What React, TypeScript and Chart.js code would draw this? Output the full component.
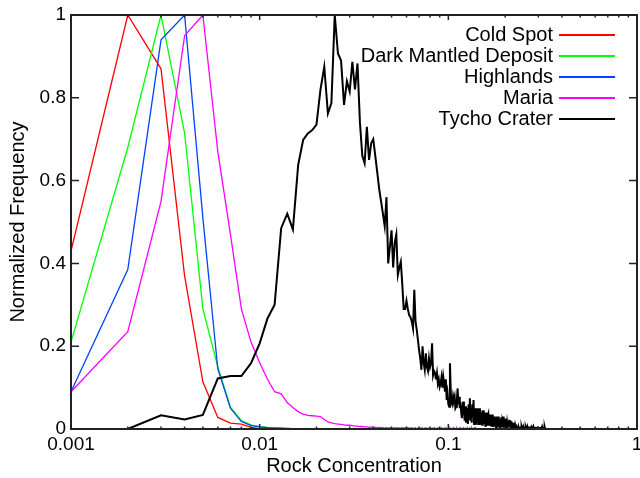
import React, { useEffect, useRef } from 'react';
import { Chart, registerables } from 'chart.js';

Chart.register(...registerables);

const FONT_FAMILY = '"Liberation Sans", Arial, Helvetica, sans-serif';

const BIN_WIDTH = 0.001;
const X_TICKS = [0.001, 0.01, 0.1, 1];
const X_TICK_LABELS = ['0.001', '0.01', '0.1', '1'];
const X_DECADES = [0.001, 0.01, 0.1];
const X_MINOR_MULTIPLIERS = [2, 3, 4, 5, 6, 7, 8, 9];
const Y_TICKS = [0, 0.2, 0.4, 0.6, 0.8, 1];
const Y_TICK_LABELS = ['0', '0.2', '0.4', '0.6', '0.8', '1'];

const SERIES_NAMES = ['Cold Spot', 'Dark Mantled Deposit', 'Highlands', 'Maria', 'Tycho Crater'];
const SERIES_COLORS = ['#ff0000', '#00ff00', '#0044ff', '#ff00ff', '#000000'];
const SERIES_START_BIN = [1, 1, 1, 1, 2];

const COLD_SPOT = [0.43, 1.0, 0.87, 0.37, 0.114, 0.028, 0.014, 0.012, 0.004, 0.001, 0];

const DARK_MANTLED = [
  0.21, 0.68, 1.0, 0.715, 0.29, 0.15, 0.053, 0.02, 0.01, 0.006,
  0.004, 0.003, 0.002, 0.002, 0.001, 0.001, 0.001, 0.001, 0.001, 0,
  0.001, 0, 0.001, 0, 0,
];

const HIGHLANDS = [
  0.09, 0.385, 0.94, 1.0, 0.51, 0.145, 0.05, 0.018, 0.008, 0.005,
  0.003, 0.002, 0.002, 0.001, 0.001, 0.001, 0.001, 0.001, 0.001, 0.001,
  0.001, 0.001, 0, 0.001, 0.001, 0, 0.001, 0, 0.001, 0,
  0, 0.001, 0, 0, 0.001, 0, 0, 0.001, 0,
];

const MARIA = [
  0.09, 0.235, 0.55, 0.95, 1.0, 0.67, 0.47, 0.29, 0.21, 0.16,
  0.12, 0.09, 0.085, 0.064, 0.052, 0.042, 0.036, 0.033, 0.032, 0.031,
  0.03, 0.023, 0.017, 0.015, 0.013, 0.012, 0.011, 0.01, 0.009, 0.009,
  0.008, 0.007, 0.007, 0.006, 0.006, 0.005, 0.005, 0.004, 0.005, 0.004,
  0.004, 0.003, 0.004, 0.003, 0.003, 0.002, 0.003, 0.002, 0.003, 0.002,
  0.002, 0.003, 0.002, 0.003, 0.002, 0.002, 0.003, 0.002, 0.003, 0.002,
  0.003, 0.002, 0.002, 0.003, 0, 0.002, 0.003, 0, 0.002, 0.002,
  0, 0.003, 0.002, 0, 0.002, 0.003, 0, 0.002, 0, 0.003,
  0, 0.002, 0, 0.003, 0.002, 0, 0, 0.003, 0, 0.002,
  0, 0.003, 0, 0, 0.002, 0, 0.003, 0, 0, 0.002,
  0, 0.003, 0, 0, 0, 0.003, 0, 0.002, 0, 0,
  0.003, 0, 0, 0.002, 0, 0.003, 0, 0, 0, 0.003,
  0, 0, 0.002, 0, 0, 0.003, 0, 0, 0, 0.002,
  0, 0, 0.003, 0, 0, 0, 0.002, 0, 0.003, 0,
];

const TYCHO = [
  0, 0.033, 0.023, 0.034, 0.122, 0.128, 0.128, 0.159, 0.207,
  0.267, 0.30, 0.485, 0.52, 0.482, 0.638, 0.698, 0.714, 0.722, 0.735,
  0.82, 0.875, 0.762, 0.787, 1.0, 0.907, 0.89, 0.783, 0.84, 0.815,
  0.887, 0.82, 0.883, 0.74, 0.66, 0.642, 0.73, 0.65, 0.69, 0.70,
  0.66, 0.62, 0.58, 0.55, 0.52, 0.49, 0.56, 0.40, 0.44, 0.48,
  0.39, 0.45, 0.47, 0.372, 0.39, 0.404, 0.35, 0.29, 0.29, 0.31,
  0.29, 0.275, 0.27, 0.26, 0.243, 0.336, 0.26, 0.24, 0.215, 0.19,
  0.17, 0.143, 0.2, 0.16, 0.143, 0.183, 0.15, 0.14, 0.17, 0.15,
  0.16, 0.207, 0.13, 0.14, 0.135, 0.12, 0.135, 0.11, 0.12, 0.102,
  0.11, 0.125, 0.1, 0.126, 0.11, 0.09, 0.12, 0.07, 0.086, 0.06,
  0.054, 0.159, 0.09, 0.062, 0.058, 0.08, 0.07, 0.078, 0.05, 0.054,
  0.07, 0.098, 0.06, 0.078, 0.05, 0.065, 0.04, 0.026, 0.05, 0.066,
  0.045, 0.02, 0.055, 0.015, 0.05, 0.03, 0.012, 0.06, 0.025, 0.074,
  0.02, 0.05, 0.015, 0.06, 0.03, 0.07, 0.012, 0.04, 0.05, 0.01,
  0.045, 0.02, 0.05, 0.012, 0.04, 0.05, 0.01, 0.045, 0.02, 0.04,
  0.01, 0.035, 0.045, 0.012, 0.03, 0.04, 0.008, 0.035, 0.02, 0.04,
  0.01, 0.03, 0.035, 0.008, 0.03, 0.015, 0.035, 0.006, 0.03, 0.02,
  0.035, 0.005, 0.025, 0.03, 0.008, 0.03, 0.01, 0.028, 0.005, 0.03,
  0.012, 0.025, 0.004, 0.03, 0.01, 0.02, 0.025, 0.004, 0.022, 0.01,
  0.028, 0.005, 0.02, 0.015, 0.03, 0.004, 0.02, 0.01, 0.025, 0.004,
  0.02, 0.012, 0.025, 0.004, 0.015, 0.02, 0.003, 0.018, 0.008, 0.022,
  0.004, 0.015, 0.01, 0.02, 0.003, 0.012, 0.018, 0.002, 0.01, 0.015,
  0.003, 0.012, 0.006, 0.015, 0.002, 0.01, 0.004, 0.012, 0.002, 0.008,
  0.004, 0, 0.008, 0, 0.005, 0, 0, 0.006, 0, 0,
  0.006, 0, 0, 0, 0.005, 0, 0, 0, 0.006, 0,
  0, 0, 0.006, 0, 0, 0, 0, 0.005, 0, 0,
  0, 0.006, 0, 0, 0, 0, 0, 0, 0.006, 0,
  0, 0, 0, 0, 0.005, 0, 0, 0, 0, 0,
  0, 0.006, 0, 0, 0, 0, 0, 0, 0, 0.005,
  0, 0, 0, 0, 0, 0, 0.006, 0, 0, 0,
  0, 0, 0, 0, 0.005, 0, 0, 0, 0, 0,
  0, 0, 0, 0.006, 0, 0, 0, 0, 0, 0,
  0, 0, 0, 0, 0.005, 0, 0, 0, 0, 0,
];

const SERIES_VALUES = [COLD_SPOT, DARK_MANTLED, HIGHLANDS, MARIA, TYCHO];
const SERIES_WIDTHS = [1.3, 1.3, 1.3, 1.3, 2];

const framePlugin = {
  id: 'frameTicks',
  afterDatasetsDraw(chart: any) {
    const { ctx, chartArea: a, scales } = chart;
    const xs = scales.x;
    const ys = scales.y;
    ctx.save();
    ctx.strokeStyle = '#222';
    ctx.lineWidth = 2;
    ctx.strokeRect(a.left, a.top, a.right - a.left, a.bottom - a.top);
    ctx.lineWidth = 1.5;
    ctx.beginPath();
    for (const v of Y_TICKS) {
      const py = ys.getPixelForValue(v);
      ctx.moveTo(a.left, py);
      ctx.lineTo(a.left + 8, py);
      ctx.moveTo(a.right, py);
      ctx.lineTo(a.right - 8, py);
    }
    for (const d of X_DECADES) {
      const all = [1, ...X_MINOR_MULTIPLIERS];
      for (const m of all) {
        const px = xs.getPixelForValue(d * m);
        const len = m === 1 ? 5 : 2.5;
        ctx.moveTo(px, a.bottom);
        ctx.lineTo(px, a.bottom - len);
        ctx.moveTo(px, a.top);
        ctx.lineTo(px, a.top + len);
      }
    }
    ctx.stroke();
    ctx.restore();
  },
};

const legendPlugin = {
  id: 'rightLegend',
  afterDraw(chart: any) {
    const { ctx, chartArea: a } = chart;
    ctx.save();
    ctx.font = `20px ${FONT_FAMILY}`;
    ctx.textAlign = 'right';
    ctx.textBaseline = 'alphabetic';
    chart.data.datasets.forEach((ds: any, i: number) => {
      const ly = a.top + 20 + i * 21;
      ctx.fillStyle = '#000';
      ctx.fillText(ds.label, a.right - 84, ly + 6);
      ctx.strokeStyle = ds.borderColor;
      ctx.lineWidth = 2;
      ctx.beginPath();
      ctx.moveTo(a.right - 78, ly);
      ctx.lineTo(a.right - 22, ly);
      ctx.stroke();
    });
    ctx.restore();
  },
};

export default function App() {
  const canvasRef = useRef<HTMLCanvasElement | null>(null);

  useEffect(() => {
    if (!canvasRef.current) return;
    const datasets = SERIES_VALUES.map((vals, si) => ({
      label: SERIES_NAMES[si],
      data: vals.map((v, i) => ({ x: (SERIES_START_BIN[si] + i) * BIN_WIDTH, y: v })),
      borderColor: SERIES_COLORS[si],
      backgroundColor: SERIES_COLORS[si],
      borderWidth: SERIES_WIDTHS[si],
      pointRadius: 0,
      tension: 0,
      fill: false,
      order: SERIES_NAMES.length - si,
    }));

    const tickFont = { family: FONT_FAMILY, size: 19 };
    const titleFont = { family: FONT_FAMILY, size: 20 };

    const chart = new Chart(canvasRef.current, {
      type: 'line',
      data: { datasets },
      options: {
        animation: false,
        responsive: false,
        layout: { padding: { left: 0, top: 15, right: 3, bottom: 0 } },
        plugins: { legend: { display: false }, tooltip: { enabled: false } },
        scales: {
          x: {
            type: 'logarithmic',
            min: 0.001,
            max: 1,
            grid: { display: false, drawTicks: false },
            border: { display: false },
            afterBuildTicks: (s: any) => {
              s.ticks = X_TICKS.map((v) => ({ value: v }));
            },
            afterFit: (s: any) => {
              s.height = 49;
              s.paddingLeft = 0;
              s.paddingRight = 0;
            },
            ticks: {
              autoSkip: false,
              maxRotation: 0,
              minRotation: 0,
              padding: 4,
              color: '#000',
              font: tickFont,
              callback: (_v: any, i: number) => X_TICK_LABELS[i],
            },
            title: {
              display: true,
              text: 'Rock Concentration',
              color: '#000',
              font: titleFont,
              padding: { top: 0, bottom: 0 },
            },
          },
          y: {
            type: 'linear',
            min: 0,
            max: 1,
            grid: { display: false, drawTicks: false },
            border: { display: false },
            afterBuildTicks: (s: any) => {
              s.ticks = Y_TICKS.map((v) => ({ value: v }));
            },
            afterFit: (s: any) => {
              s.width = 71;
              s.paddingTop = 0;
              s.paddingBottom = 0;
            },
            ticks: {
              autoSkip: false,
              padding: 5,
              color: '#000',
              font: tickFont,
              callback: (_v: any, i: number) => Y_TICK_LABELS[i],
            },
            title: {
              display: true,
              text: 'Normalized Frequency',
              color: '#000',
              font: titleFont,
              padding: { top: 6, bottom: 0 },
            },
          },
        },
      } as any,
      plugins: [framePlugin, legendPlugin],
    });
    return () => chart.destroy();
  }, []);

  return (
    <div style={{ position: 'fixed', left: 0, top: 0, width: 640, height: 478, background: '#fff' }}>
      <canvas ref={canvasRef} width={640} height={478} style={{ display: 'block', width: 640, height: 478 }} />
    </div>
  );
}
